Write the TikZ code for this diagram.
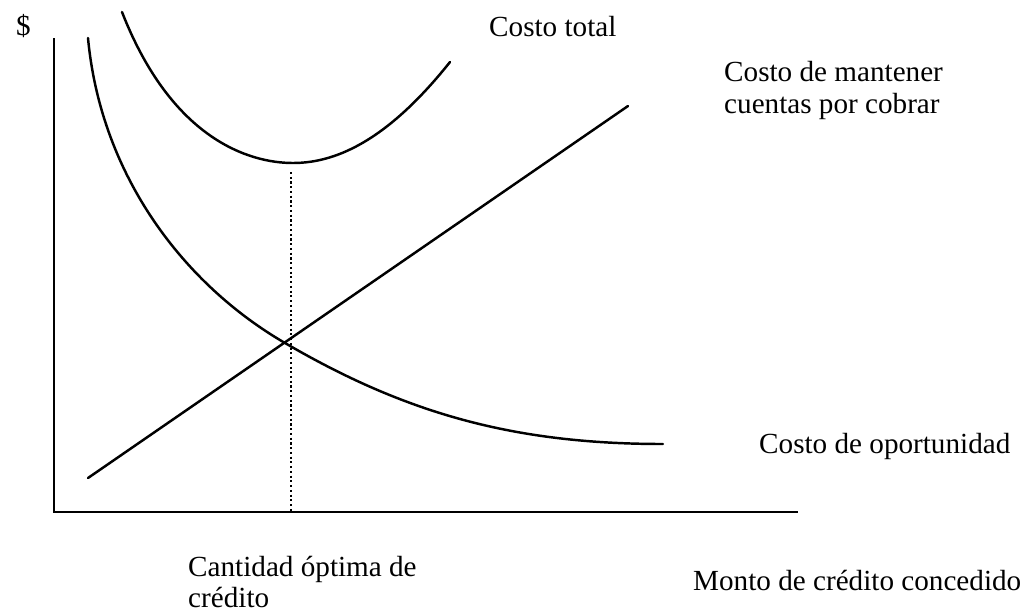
\documentclass[tikz,border=0pt]{standalone}
\usepackage{fontspec}
\setmainfont{Liberation Serif}
\usetikzlibrary{positioning}

\tikzset{
  etiqueta/.style={anchor=base west,inner sep=0pt,align=left,font=\fontsize{16.6}{19}\selectfont},
  curva/.style={line width=1.4pt,line cap=round}
}

\begin{document}
\begin{tikzpicture}[
                x=0.02cm,y=-0.02cm,
                line width=1.4pt] %

\useasboundingbox (0,0) rectangle (1025,613);

% ejes
\coordinate (TOPY) at (54,38);
\coordinate (O) at (54,512);
\coordinate (ENDX) at (798,512);
\draw[line width=1.6pt] (TOPY) -- (O) -- (ENDX);

% costo total
\coordinate (CTa) at (122,12);
\coordinate (TCMIN) at (293,163);
\coordinate (CTb) at (450,62);
\draw[curva] (CTa) .. controls (172,140) and (250,163) .. (TCMIN)
             .. controls (340,163) and (391,136) .. (CTb);

% costo de oportunidad
\coordinate (COa) at (88,38);
\coordinate (CRUCE) at (285,343);
\coordinate (COb) at (663,444);
\draw[curva] (COa) .. controls (101,177) and (185,285) .. (CRUCE)
             .. controls (405,413) and (513,444) .. (COb);

% costo de mantener
\coordinate (CMa) at (88,478);
\coordinate (CMb) at (628,106);
\draw[curva] (CMa) -- (CMb);

% cantidad optima
\coordinate (QTOP) at (291,172);
\coordinate (QOPT) at (291,512);
\draw[line width=1.2pt,dash pattern=on 1.2pt off 1.5pt] (QTOP) -- (QOPT);

% textos
\node[etiqueta] (DOLAR) at (15,35) {\$};
\node[etiqueta] (CTOTAL) at (488,36) {Costo total};
\node[etiqueta] (CMANT) at (723,113) {Costo de mantener\\[-1pt]cuentas por cobrar};
\node[etiqueta] (COPORT) at (758,453) {Costo de oportunidad};
\node[etiqueta] (CANT) at (187,607) {Cantidad óptima de\\[-1.5pt]crédito};
\node[etiqueta] (MONTO) at (692,590) {Monto de crédito concedido};

\end{tikzpicture}
\end{document}
